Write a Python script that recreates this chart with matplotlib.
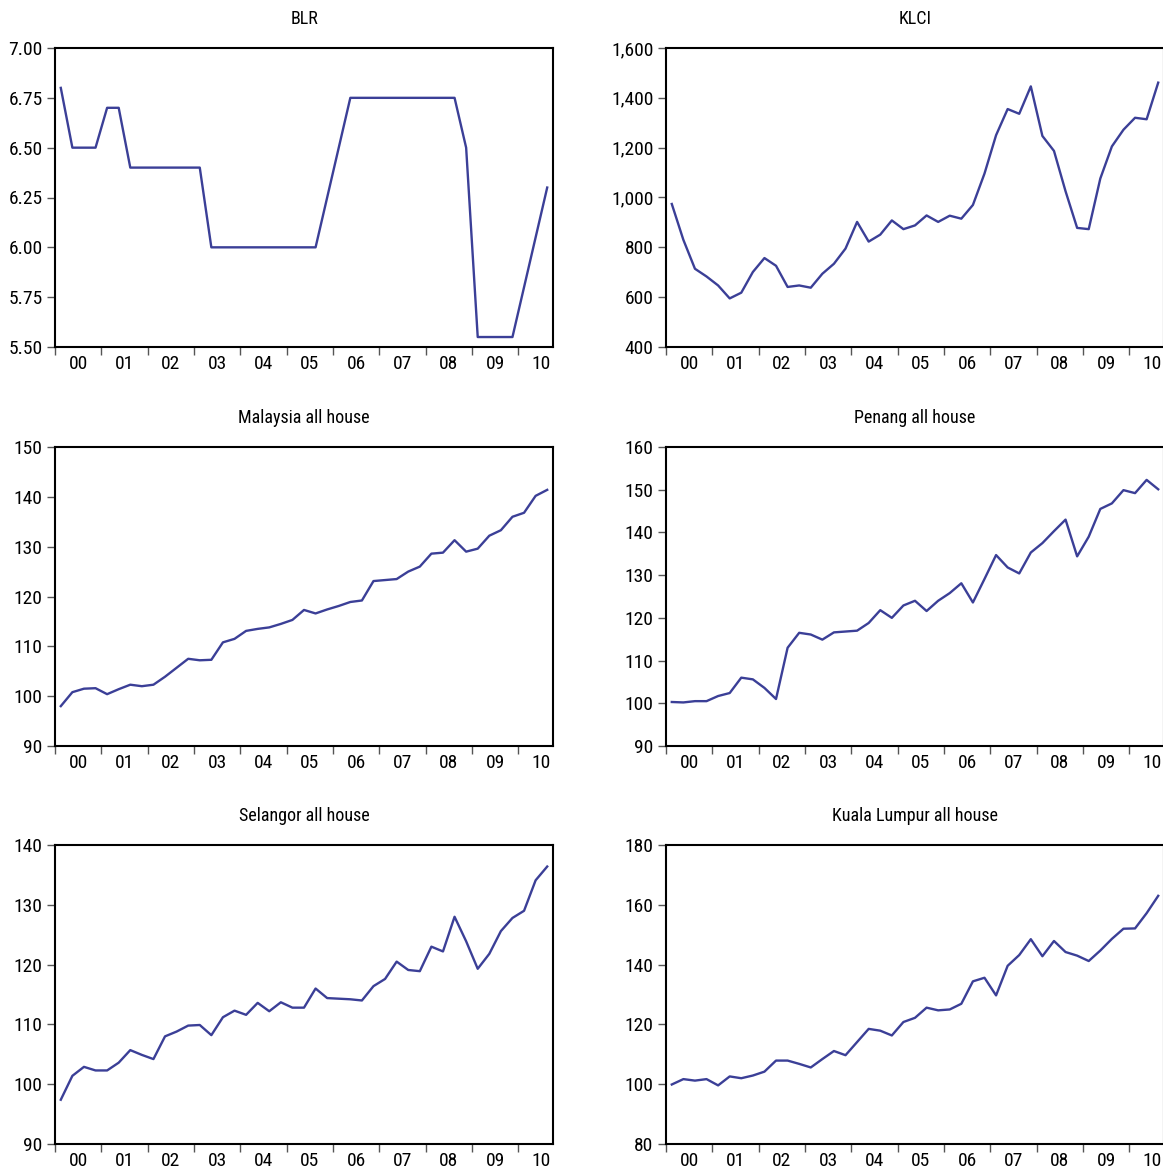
import numpy as np
import matplotlib
matplotlib.use("Agg")
import matplotlib.pyplot as plt
from matplotlib.ticker import FixedLocator, FuncFormatter

plt.rcParams['font.family'] = ['Roboto Condensed', 'Liberation Sans Narrow', 'DejaVu Sans']

# quarterly, 2000Q1 .. 2010Q3
year_labels = ['00', '01', '02', '03', '04', '05', '06', '07', '08', '09', '10']

blr = [6.80, 6.50, 6.50, 6.50, 6.70, 6.70, 6.40, 6.40, 6.40, 6.40, 6.40, 6.40, 6.40,
       6.00, 6.00, 6.00, 6.00, 6.00, 6.00, 6.00, 6.00, 6.00, 6.00,
       6.25, 6.50, 6.75, 6.75, 6.75, 6.75, 6.75, 6.75, 6.75, 6.75, 6.75, 6.75,
       6.50, 5.55, 5.55, 5.55, 5.55, 5.80, 6.05, 6.30]

klci = [974, 830, 714, 683, 647, 595, 618, 701, 757, 726, 641, 647, 638, 694, 734,
        795, 902, 823, 851, 908, 873, 888, 928, 902, 927, 915, 970, 1096, 1250,
        1355, 1336, 1446, 1247, 1187, 1025, 878, 873, 1076, 1205, 1272, 1320,
        1314, 1461]

malaysia = [98.0, 100.8, 101.5, 101.6, 100.4, 101.4, 102.3, 102.0, 102.3, 103.9,
            105.7, 107.5, 107.2, 107.3, 110.8, 111.5, 113.1, 113.5, 113.8, 114.5,
            115.3, 117.3, 116.6, 117.4, 118.1, 118.9, 119.2, 123.1, 123.3, 123.5,
            125.0, 126.0, 128.6, 128.8, 131.3, 129.0, 129.6, 132.2, 133.3, 136.0,
            136.8, 140.2, 141.4]

penang = [100.3, 100.2, 100.5, 100.5, 101.7, 102.4, 106.0, 105.6, 103.6, 101.0,
          113.0, 116.5, 116.1, 114.9, 116.6, 116.8, 117.0, 118.8, 121.8, 120.0,
          122.9, 124.0, 121.6, 124.0, 125.8, 128.1, 123.6, 129.1, 134.7, 131.8,
          130.4, 135.3, 137.5, 140.3, 143.0, 134.4, 139.0, 145.5, 146.8, 149.9,
          149.2, 152.3, 150.1]

selangor = [97.4, 101.4, 102.9, 102.3, 102.3, 103.6, 105.7, 104.9, 104.2, 108.0,
            108.8, 109.8, 109.9, 108.2, 111.2, 112.3, 111.6, 113.6, 112.2, 113.7,
            112.8, 112.8, 116.0, 114.4, 114.3, 114.2, 114.0, 116.4, 117.6, 120.5,
            119.1, 118.9, 123.0, 122.2, 128.0, 123.9, 119.3, 121.8, 125.6, 127.8,
            129.0, 134.1, 136.4]

kuala_lumpur = [99.9, 101.7, 101.2, 101.7, 99.6, 102.6, 102.0, 102.9, 104.2, 107.9,
                107.9, 106.8, 105.6, 108.4, 111.1, 109.7, 114.1, 118.5, 117.9, 116.3,
                120.8, 122.2, 125.6, 124.7, 125.0, 126.9, 134.4, 135.6, 129.7, 139.6,
                143.2, 148.5, 142.8, 147.9, 144.2, 143.0, 141.2, 144.7, 148.6, 152.0,
                152.1, 157.2, 163.0]

panels = [
    ("BLR", blr, (5.5, 7.0), np.arange(5.5, 7.01, 0.25), "{:.2f}"),
    ("KLCI", klci, (400, 1600), np.arange(400, 1601, 200), "{:,.0f}"),
    ("Malaysia all house", malaysia, (90, 150), np.arange(90, 151, 10), "{:.0f}"),
    ("Penang all house", penang, (90, 160), np.arange(90, 161, 10), "{:.0f}"),
    ("Selangor all house", selangor, (90, 140), np.arange(90, 141, 10), "{:.0f}"),
    ("Kuala Lumpur all house", kuala_lumpur, (80, 180), np.arange(80, 181, 20), "{:.0f}"),
]

W, H = 1163, 1169
fig = plt.figure(figsize=(W / 100, H / 100), dpi=100)

col_left = [55, 666]
row_top = [48, 447, 845]
ax_w, ax_h = 498, 299

line_color = '#3b3f97'

for k, (title, values, ylim, yticks, fmt) in enumerate(panels):
    r, c = divmod(k, 2)
    left = col_left[c] / W
    bottom = 1 - (row_top[r] + ax_h) / H
    ax = fig.add_axes([left, bottom, ax_w / W, ax_h / H])

    n = len(values)
    x = np.arange(n) + 0.5
    ax.plot(x, values, color=line_color, lw=1.7)

    ax.set_xlim(0, n)
    ax.set_ylim(*ylim)
    ax.set_title(title, fontsize=13, pad=17)

    # year boundaries as ticks, year labels centred in each year
    ax.xaxis.set_major_locator(FixedLocator(np.arange(0, n, 4)))
    ax.xaxis.set_major_formatter(FuncFormatter(lambda v, p: ''))
    ax.xaxis.set_minor_locator(FixedLocator(np.arange(len(year_labels)) * 4 + 2))
    ax.xaxis.set_minor_formatter(FuncFormatter(lambda v, p: year_labels[p] if p < len(year_labels) else ''))
    ax.tick_params(axis='x', which='major', direction='out', length=6, width=1, color='#555555')
    ax.tick_params(axis='x', which='minor', length=0, pad=6, labelsize=14)

    ax.set_yticks(yticks)
    ax.set_yticklabels([fmt.format(v) for v in yticks])
    ax.tick_params(axis='y', direction='out', length=6, width=1, color='#555555', pad=3, labelsize=14)

    for s in ax.spines.values():
        s.set_linewidth(1.5)
        s.set_color('black')

fig.savefig("out.png", dpi=100)
